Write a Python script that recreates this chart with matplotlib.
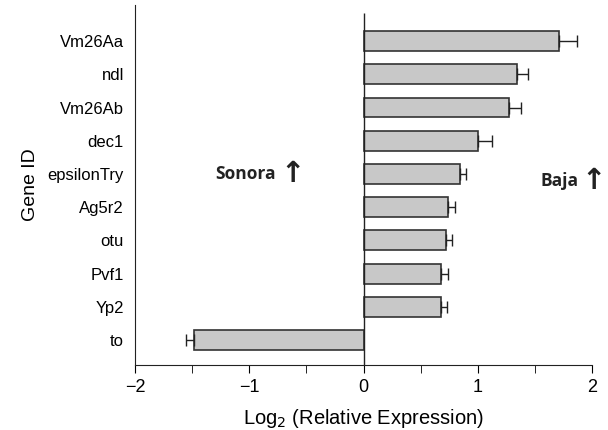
import numpy as np
import matplotlib.pyplot as plt
from matplotlib.ticker import MultipleLocator

genes = ["to", "Yp2", "Pvf1", "otu", "Ag5r2", "epsilonTry", "dec1", "Vm26Ab", "ndl", "Vm26Aa"]
log2_expr = [-1.48, 0.68, 0.68, 0.72, 0.74, 0.84, 1.00, 1.27, 1.34, 1.71]
err = [0.07, 0.05, 0.06, 0.05, 0.06, 0.06, 0.12, 0.11, 0.10, 0.16]

plt.rcParams['font.family'] = ['Liberation Sans', 'DejaVu Sans']

fig = plt.figure(figsize=(6.08, 4.3), dpi=100)
ax = fig.add_axes([0.222, 0.151, 0.752, 0.837])

y = np.arange(len(genes))
vals = np.array(log2_expr)
e = np.array(err)
# one-sided error bars, away from zero
xerr = np.vstack([np.where(vals < 0, e, 0), np.where(vals > 0, e, 0)])

ax.barh(y, vals, height=0.6, color="#c8c8c8", edgecolor="#333333", linewidth=1.2, zorder=2)
ax.errorbar(vals, y, xerr=xerr, fmt="none", ecolor="#222222", elinewidth=1.0,
            capsize=4, capthick=1.0, zorder=3)
ax.vlines(0, -0.75, 9.84, color="#222222", linewidth=1.0, zorder=4)

ax.set_xlim(-2, 2)
ax.set_ylim(-0.75, 10.08)
ax.xaxis.set_minor_locator(MultipleLocator(0.5))
ax.set_xticks([-2, -1, 0, 1, 2])
ax.set_xticklabels(["\u22122", "\u22121", "0", "1", "2"])
ax.set_yticks(y)
ax.set_yticklabels(genes)

for s in ["top", "right"]:
    ax.spines[s].set_visible(False)
ax.spines["left"].set_color("#222222")
ax.spines["bottom"].set_color("#222222")
ax.tick_params(axis="x", which="major", length=6, direction="out", labelsize=13, pad=4)
ax.tick_params(axis="x", which="minor", length=6, direction="out")
ax.tick_params(axis="y", length=0, labelsize=12, pad=8)

ax.set_xlabel("Log$_2$ (Relative Expression)", fontsize=14.5, labelpad=8)
ax.set_ylabel("Gene ID", fontsize=14, labelpad=6)

ax.text(-1.03, 5.0, "Sonora", fontsize=12.5, fontweight="bold", family="Open Sans",
        ha="center", va="center", color="#222222")
ax.text(-0.62, 5.0, "\u2191", fontsize=21, fontweight="bold", family="DejaVu Sans",
        ha="center", va="center", color="#222222")
ax.text(1.71, 4.78, "Baja", fontsize=12.5, fontweight="bold", family="Open Sans",
        ha="center", va="center", color="#222222")
ax.text(2.01, 4.78, "\u2191", fontsize=21, fontweight="bold", family="DejaVu Sans",
        ha="center", va="center", color="#222222", clip_on=False)

fig.savefig("out.png", dpi=100)
